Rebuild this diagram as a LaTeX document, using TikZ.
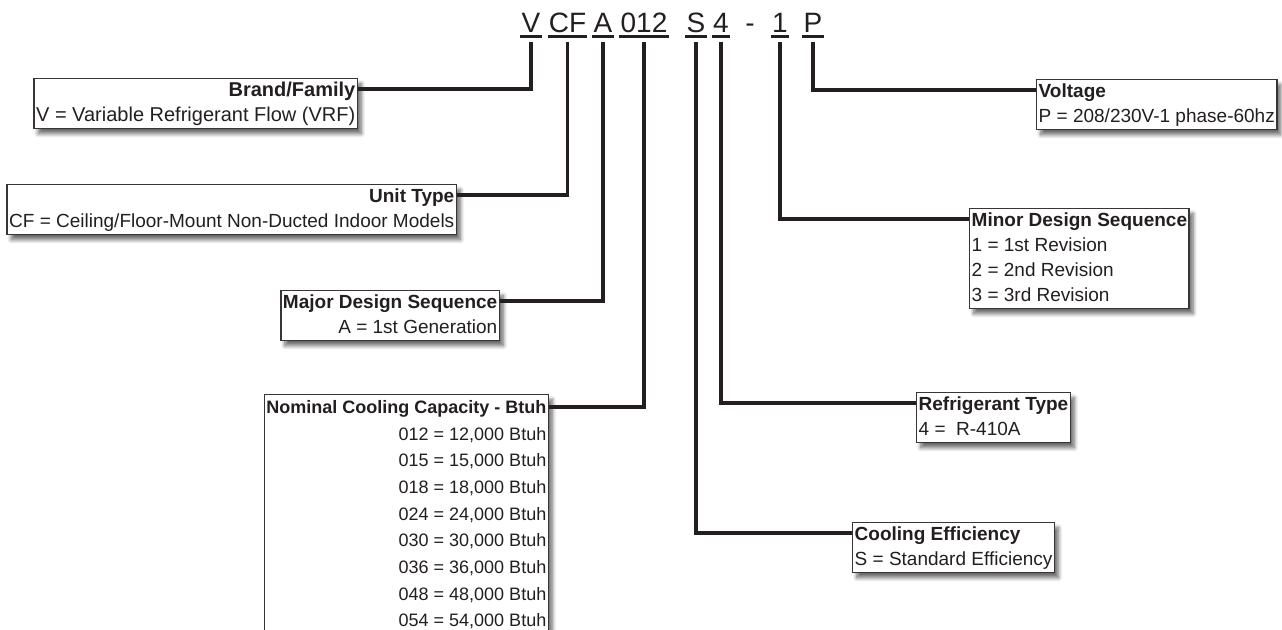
\documentclass[tikz,border=0pt]{standalone}
\usepackage{fontspec}
\setmainfont{Liberation Sans}
\usetikzlibrary{shadows.blur}
\definecolor{ink}{HTML}{231F20}
\begin{document}
\begin{tikzpicture}[x=1pt,y=-1pt,
  code/.style={font=\fontsize{28}{30}\selectfont, text=ink, anchor=base, inner xsep=1pt, inner ysep=4pt},
  uline/.style={ink, line width=3pt},
  conn/.style={ink, line width=3.2pt, line join=miter},
  infobox/.style={draw=ink!90, line width=1.4pt, fill=white, inner xsep=2pt, inner ysep=0pt, text=ink,
    font=\fontsize{19}{25}\selectfont,
    blur shadow={shadow xshift=4pt, shadow yshift=-5pt, shadow blur steps=8, shadow blur radius=4pt, shadow opacity=60}},
  lbox/.style={infobox, align=right, anchor=north east},
  rbox/.style={infobox, align=left, anchor=north west},
]
\useasboundingbox (0,0) rectangle (1282,629);
\clip (0,0) rectangle (1282,629);

% model code
\node[code] (cV) at (531,32) {V};
\node[code] (cCF) at (567.5,32) {CF};
\node[code] (cA) at (603,32) {A};
\node[code] (c012) at (644,32) {012};
\node[code] (cS) at (696,32) {S};
\node[code] (c4) at (721,32) {4};
\node[code] (hyph) at (750,32) {-};
\node[code] (c1) at (780,32) {1};
\node[code] (cP) at (813,32) {P};
\foreach \n in {cV,cCF,cA,c012,cS,c4,c1,cP}
  \draw[uline] (\n.south west) -- (\n.south east);

% boxes left
\node[lbox, font=\fontsize{20}{25}\selectfont] (brand) at (358,78) {\strut\textbf{Brand/Family}\\\strut V = Variable Refrigerant Flow (VRF)};
\node[lbox] (unit) at (457,184) {\strut\textbf{Unit Type}\\\strut CF = Ceiling/Floor-Mount Non-Ducted Indoor Models};
\node[lbox] (major) at (500,290) {\strut\textbf{Major Design Sequence}\\\strut A = 1st Generation};
\node[lbox, font=\fontsize{18}{26.7}\selectfont] (nominal) at (549,394) {\strut\textbf{Nominal Cooling Capacity - Btuh}\\
  \strut 012 = 12,000 Btuh\\\strut 015 = 15,000 Btuh\\\strut 018 = 18,000 Btuh\\\strut 024 = 24,000 Btuh\\
  \strut 030 = 30,000 Btuh\\\strut 036 = 36,000 Btuh\\\strut 048 = 48,000 Btuh\\\strut 054 = 54,000 Btuh};

% boxes right
\node[rbox] (volt) at (1036,79) {\strut\textbf{Voltage}\\\strut P = 208/230V-1 phase-60hz};
\node[rbox] (minor) at (969,208) {\strut\textbf{Minor Design Sequence}\\\strut 1 = 1st Revision\\\strut 2 = 2nd Revision\\\strut 3 = 3rd Revision};
\node[rbox] (refr) at (916,392) {\strut\textbf{Refrigerant Type}\\\strut 4 = \ R-410A};
\node[rbox] (eff) at (852,522) {\strut\textbf{Cooling Efficiency}\\\strut S = Standard Efficiency};

% connectors
\draw[conn] ([yshift=-6pt]cV.south) |- ([yshift=-11pt]brand.north east);
\draw[conn] ([yshift=-6pt]cCF.south) |- ([yshift=-11pt]unit.north east);
\draw[conn] ([yshift=-6pt]cA.south) |- ([yshift=-11pt]major.north east);
\draw[conn] ([yshift=-6pt]c012.south) |- ([yshift=-13pt]nominal.north east);
\draw[conn] ([yshift=-6pt]cS.south) |- ([yshift=-11pt]eff.north west);
\draw[conn] ([yshift=-6pt]c4.south) |- ([yshift=-11pt]refr.north west);
\draw[conn] ([yshift=-6pt]c1.south) |- ([yshift=-11pt]minor.north west);
\draw[conn] ([yshift=-6pt]cP.south) |- ([yshift=-11pt]volt.north west);
\end{tikzpicture}
\end{document}
